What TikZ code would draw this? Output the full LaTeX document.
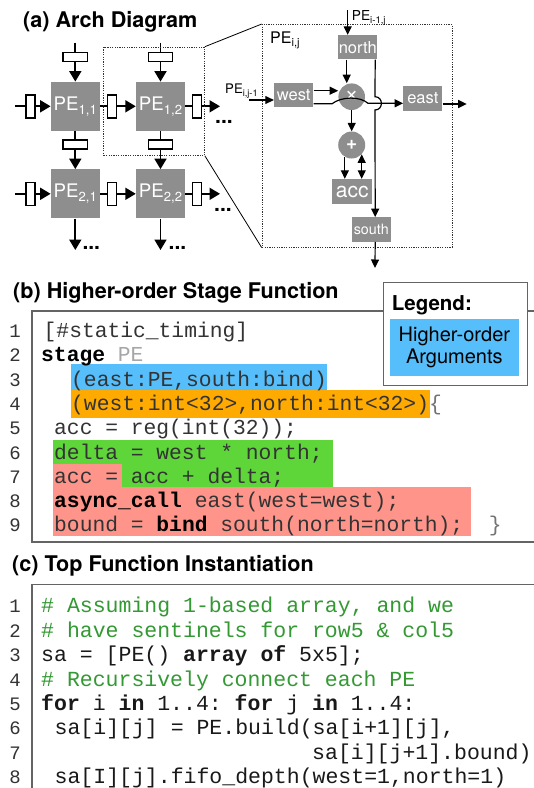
\documentclass[tikz,border=0pt]{standalone}
\usepackage{fontspec}
\setmainfont{TeX Gyre Heros}
\setmonofont{Liberation Mono}
\usetikzlibrary{arrows.meta,calc}
\definecolor{pegray}{RGB}{142,142,142}
\definecolor{hoblue}{RGB}{86,190,250}
\definecolor{hoorange}{RGB}{255,170,0}
\definecolor{hogreen}{RGB}{94,214,58}
\definecolor{hored}{RGB}{255,149,138}
\definecolor{cmtgreen}{RGB}{51,153,51}
\definecolor{codegray}{RGB}{51,51,51}
\definecolor{boxgray}{RGB}{100,100,100}
\newcommand\sbs[1]{\raisebox{-0.22em}{\scalebox{0.7}{#1}}}
\begin{document}
\begin{tikzpicture}[x=1pt,y=-1pt,
  pebox/.style={fill=pegray, inner sep=0pt, minimum width=49pt, minimum height=49pt, text=white, font=\fontsize{18.7}{20}\selectfont},
  regv/.style={draw=black, fill=white, line width=1.4pt, minimum width=24.5pt, minimum height=9pt, inner sep=0pt},
  regh/.style={draw=black, fill=white, line width=1.4pt, minimum width=9pt, minimum height=23pt, inner sep=0pt},
  garrow/.style={line width=1.8pt, -{Triangle[length=10.5pt,width=12pt]}},
  darrow/.style={line width=1.2pt, -{Triangle[length=8.5pt,width=8pt]}},
  dbox/.style={fill=pegray, text=white, inner sep=0pt, minimum width=39pt, minimum height=24.4pt, font=\fontsize{16.5}{18}\selectfont},
  opcirc/.style={circle, fill=pegray, text=white, inner sep=0pt, minimum size=27pt, font=\fontsize{19}{20}\selectfont\bfseries},
  dotbox/.style={draw=black!80, line width=0.9pt, dash pattern=on 1.2pt off 1.2pt, inner sep=0pt, anchor=north west},
  dotsnode/.style={inner sep=0pt, font=\fontsize{21}{22}\selectfont\bfseries},
  ptitle/.style={anchor=base west, inner sep=0pt, font=\fontsize{21.6}{24}\selectfont\bfseries},
  codeb/.style={anchor=base west, inner sep=0pt, text=codegray, font=\fontsize{21.3}{24}\selectfont\ttfamily},
  codec/.style={anchor=base west, inner sep=0pt, text=black!90, font=\fontsize{21.5}{24}\selectfont\ttfamily},
  lnum/.style={anchor=base, inner sep=0pt, text=codegray, font=\fontsize{19}{22}\selectfont\ttfamily},
  codeframe/.style={draw=boxgray, line width=1.2pt}
]
\useasboundingbox (0,0) rectangle (534,788);
\fill[white] (0,0) rectangle (534,788);

% ---------------- (a) ----------------
\node[ptitle] (ta) at (23,27) {(a) Arch Diagram};

\node[pebox] (PE11) at (75.3,106.3) {PE\sbs{1,1}};
\node[pebox] (PE12) at (160.5,106.3) {PE\sbs{1,2}};
\node[pebox] (PE21) at (75.3,193.8) {PE\sbs{2,1}};
\node[pebox] (PE22) at (160.5,193.8) {PE\sbs{2,2}};

\coordinate (t1) at (75.3,42.7);
\coordinate (t2) at (160.5,42.7);
\coordinate (b1) at (75.3,250);
\coordinate (b2) at (160.5,250);
\coordinate (l1) at (15,106.3);
\coordinate (l2) at (15,193.8);
\coordinate (r1) at (220,106.3);
\coordinate (r2) at (220,193.8);

\draw[garrow] (t1) -- (PE11);
\draw[garrow] (t2) -- (PE12);
\draw[garrow] (PE11) -- (PE21);
\draw[garrow] (PE12) -- (PE22);
\draw[garrow] (PE21) -- (b1);
\draw[garrow] (PE22) -- (b2);
\draw[garrow] (l1) -- (PE11);
\draw[garrow] (PE11) -- (PE12);
\draw[garrow] (PE12) -- (r1);
\draw[garrow] (l2) -- (PE21);
\draw[garrow] (PE21) -- (PE22);
\draw[garrow] (PE22) -- (r2);

\node[regv] (rt1) at (75.3,57.2) {};
\node[regv] (rt2) at (160.5,57.2) {};
\node[regv] (rm1) at (75.3,144.3) {};
\node[regv] (rm2) at (160.5,144.3) {};
\node[regh] (rl1) at (30.5,106.3) {};
\node[regh] (rc1) at (111.7,106.3) {};
\node[regh] (rr1) at (197.2,106.3) {};
\node[regh] (rl2) at (30.5,193.8) {};
\node[regh] (rc2) at (111.7,193.8) {};
\node[regh] (rr2) at (197.2,193.8) {};

\node[dotsnode] (d1) at (224,121.7) {...};
\node[dotsnode] (d2) at (223,210) {...};
\node[dotsnode] (d3) at (91.3,248.3) {...};
\node[dotsnode] (d4) at (177.5,248.3) {...};

\node[dotbox, minimum width=100.7pt, minimum height=108.3pt] (sel) at (103.3,46.7) {};
\node[dotbox, minimum width=190pt, minimum height=222.7pt] (detail) at (261.7,24) {};
\draw[line width=0.8pt] (sel.north east) -- (detail.north west);
\draw[line width=0.8pt] (sel.south east) -- (detail.south west);

% detail of PE
\node[anchor=base west, inner sep=0pt, font=\fontsize{16}{18}\selectfont] (pelab) at (270,43) {PE\sbs{i,j}};
\node[anchor=base west, inner sep=0pt, font=\fontsize{13.7}{15}\selectfont] (lnorth) at (351.7,20.7) {PE\sbs{i-1,j}};
\node[anchor=base west, inner sep=0pt, font=\fontsize{13.2}{15}\selectfont] (lwest) at (225,93.3) {PE\sbs{i,j-1}};

\node[dbox] (north) at (357.8,47.2) {north};
\node[dbox, minimum width=39.3pt, minimum height=24pt] (west) at (293.7,95.3) {west};
\node[dbox, minimum height=24.7pt] (east) at (422.8,98.3) {east};
\node[dbox, minimum width=40pt, minimum height=25pt, font=\fontsize{21}{22}\selectfont] (acc) at (352.3,191.5) {acc};
\node[dbox, minimum width=39.3pt, font=\fontsize{14.3}{16}\selectfont] (south) at (371.3,229.5) {south};
\node[opcirc, minimum size=26.6pt, font=\fontsize{24}{24}\selectfont] (mul) at (351.7,96.7) {×};
\node[opcirc] (add) at (351.7,145) {+};

\coordinate (nin) at (347.7,10);
\coordinate (win) at (249.3,100);
\coordinate (vtop) at ([xshift=-2.3pt]north.south east);
\coordinate (nm) at ([xshift=-11.1pt]north.south);
\coordinate (sout) at (375,268);
\coordinate (eout) at (466.7,104);
\coordinate (aa) at (add.-120);
\coordinate (ab) at (add.-43);

\draw[darrow] (nin) -- (nin |- north.north);
\draw[darrow] (win) -- (win -| west.west);
\draw[darrow] (nm) -- (nm |- mul.north);
\draw[darrow] ([yshift=4.6pt]west.east) -- ([yshift=4.6pt]west.east -| mul.west);
\draw[darrow] ([yshift=-8.5pt]west.east) -- (332,103.8) .. controls (341,96.5) and (360,96) .. (368,103.3) -- ([yshift=-5pt]east.west);
\draw[darrow] (vtop) -- (375,96.7) .. controls (383.5,96.7) and (383.5,110) .. (375,110) -- (vtop |- south.north);
\draw[darrow] (vtop |- south.south) -- (sout);
\draw[darrow] ([yshift=-5.7pt]east.east) -- (eout);
\draw[darrow] (mul) -- (add);
\draw[darrow] (aa) -- (aa |- acc.north);
\draw[line width=1.2pt, {Triangle[length=8.5pt,width=8pt]}-{Triangle[length=8.5pt,width=8pt]}] (ab) -- (ab |- acc.north);

% ---------------- (b) ----------------
\node[ptitle] (tb) at (13,298) {(b) Higher-order Stage Function};
\draw[codeframe] (540,311) -- (32,311) -- (32,542) -- (540,542);

\fill[hoblue] (70.5,364.3) rectangle (327,390);
\fill[hoorange] (70.5,390) rectangle (430,418);
\fill[hogreen] (52.8,439.6) rectangle (332.8,463.5);
\fill[hored] (52.8,463.5) rectangle (121.6,487.3);
\fill[hogreen] (121.6,463.5) rectangle (332.8,487.3);
\fill[hored] (52.8,487.3) rectangle (471,535.7);

\foreach \i in {1,...,9} \node[lnum] (bn\i) at (15,{337.5+(\i-1)*24.3}) {\i};

\node[codeb] (b1) at (43.5,337.5) {[\#static\_timing]};
\node[codeb] (b2) at (41,361.8) {\textcolor{black}{\textbf{stage}} \textcolor{black!35}{PE}};
\node[codeb] (b3) at (71,386.1) {(east:PE,south:bind)};
\node[codeb] (b4) at (71,410.4) {(west:int<32>,north:int<32>)\textcolor{black!55}{\{}};
\node[codeb] (b5) at (54,434.7) {acc = reg(int(32));};
\node[codeb] (b6) at (54,459) {delta = west * north;};
\node[codeb] (b7) at (54,483.3) {acc = acc + delta;};
\node[codeb] (b8) at (54,507.6) {\textcolor{black}{\textbf{async\_call}} east(west=west);};
\node[codeb] (b9) at (54,531.9) {bound = \textcolor{black}{\textbf{bind}} south(north=north);\ \ \textcolor{black!55}{\}}};

\node[draw=boxgray, fill=white, line width=1pt, minimum width=144pt, minimum height=103.3pt, anchor=north west, inner sep=0pt] (legend) at (382.7,281.7) {};
\node[anchor=base west, inner sep=0pt, font=\fontsize{20.5}{22}\selectfont\bfseries] (legtitle) at (391.7,310) {Legend:};
\node[fill=hoblue, minimum width=128.3pt, minimum height=57.7pt, anchor=north west, inner sep=0pt, align=center, font=\fontsize{20}{22.7}\selectfont] (legarg) at (390,318.3) {Higher-order\\Arguments};

% ---------------- (c) ----------------
\node[ptitle] (tc) at (12,571) {(c) Top Function Instantiation};
\draw[codeframe] (540,584.5) -- (32,584.5) -- (32,795);

\foreach \i in {1,...,8} \node[lnum] (cn\i) at (15,{612.8+(\i-1)*24.4}) {\i};

\node[codec, text=cmtgreen] (c1) at (41,612.8) {\# Assuming 1-based array, and we};
\node[codec, text=cmtgreen] (c2) at (41,637.2) {\# have sentinels for row5 \& col5};
\node[codec] (c3) at (41,661.6) {sa = [PE() \textbf{array of} 5x5];};
\node[codec, text=cmtgreen] (c4) at (41,686) {\# Recursively connect each PE};
\node[codec] (c5) at (41,710.4) {\textbf{for} i \textbf{in} 1..4: \textbf{for} j \textbf{in} 1..4:};
\node[codec] (c6) at (54.5,734.8) {sa[i][j] = PE.build(sa[i+1][j],};
\node[codec] (c7) at (312,759.2) {sa[i][j+1].bound)};
\node[codec] (c8) at (54.5,783.6) {sa[I][j].fifo\_depth(west=1,north=1)};
\end{tikzpicture}
\end{document}
